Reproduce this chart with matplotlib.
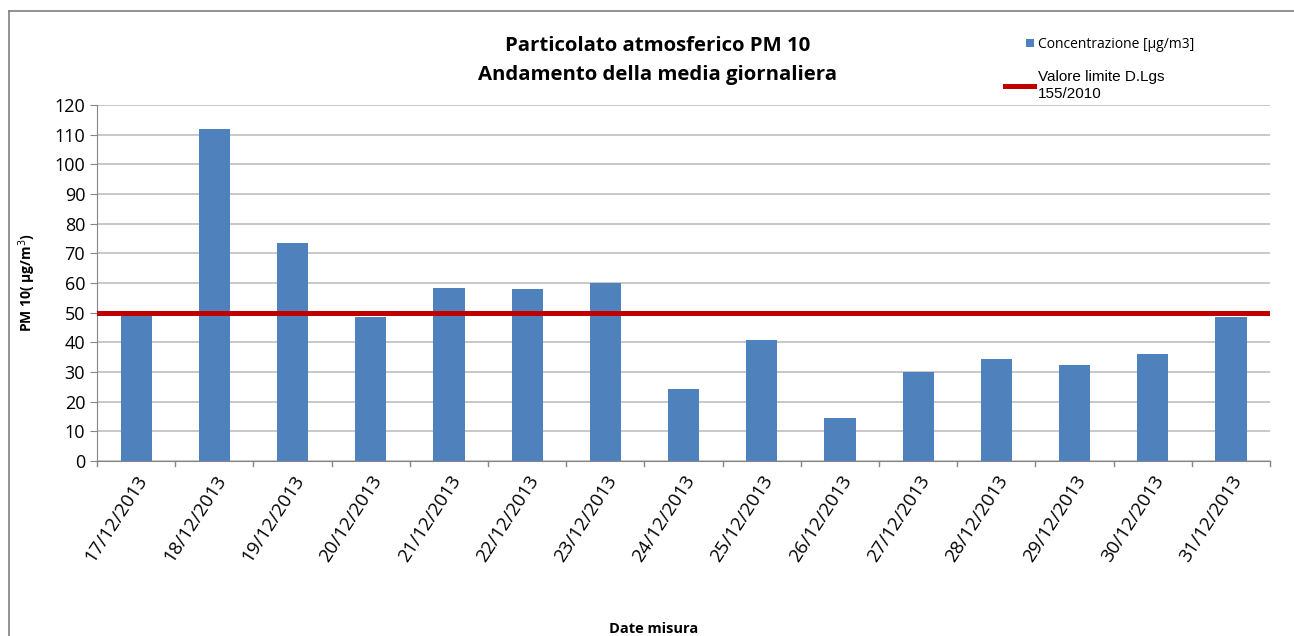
import numpy as np
import matplotlib
matplotlib.use('Agg')
from matplotlib import pyplot as plt
from matplotlib.lines import Line2D
from matplotlib.patches import Rectangle
from matplotlib.legend_handler import HandlerPatch

dates = ['17/12/2013', '18/12/2013', '19/12/2013', '20/12/2013', '21/12/2013',
         '22/12/2013', '23/12/2013', '24/12/2013', '25/12/2013', '26/12/2013',
         '27/12/2013', '28/12/2013', '29/12/2013', '30/12/2013', '31/12/2013']
pm10 = [50.6, 111.8, 73.5, 48.6, 58.3, 58.0, 60.0, 24.3, 40.8, 14.5,
        30.0, 34.4, 32.4, 36.1, 48.6]
limite = [50] * len(dates)

plt.rcParams['font.family'] = ['Open Sans', 'DejaVu Sans']

fig = plt.figure(dpi=100, figsize=(12.94, 6.36))
ax = fig.add_axes([0.075, 0.2752, 0.9065, 0.5597])

x = np.arange(len(dates))
bars = ax.bar(x, pm10, width=0.4, color='#4f81bd', label='Concentrazione [µg/m3]', zorder=2)
line, = ax.plot(np.r_[x[0] - 0.5, x, x[-1] + 0.5], [limite[0]] + limite + [limite[-1]],
                color='#c00000', lw=3.6, zorder=3, label='Valore limite D.Lgs\n155/2010')

ax.set_xlim(-0.5, len(dates) - 0.5)
ax.set_ylim(0, 120)
ax.set_yticks(range(0, 121, 10))
ax.set_xticks(x)
ax.set_xticklabels(dates, rotation=57, ha='right', rotation_mode='anchor', fontsize=13.5)
ax.tick_params(axis='x', length=0, pad=8)
ax.tick_params(axis='y', labelsize=13, length=5, color='#868686')
# ticks between categories, Excel style
for b in np.arange(-0.5, len(dates), 1.0):
    ax.plot([b, b], [0, -1.7], color='#868686', lw=1, clip_on=False, zorder=1)

ax.grid(axis='y', color='#bfbfbf', lw=1.2, zorder=0)
for s in ['top', 'right']:
    ax.spines[s].set_visible(False)
ax.spines['left'].set_color('#868686')
ax.spines['bottom'].set_color('#868686')

ax.set_ylabel('PM 10( µg/m$^3$)', fontsize=10, fontweight='bold', labelpad=12)
fig.text(0.505, 0.005, 'Date misura', ha='center', fontsize=10.5, fontweight='bold')
fig.text(0.508, 0.92, 'Particolato atmosferico PM 10', ha='center', fontsize=14.7, fontweight='bold')
fig.text(0.508, 0.874, 'Andamento della media giornaliera', ha='center', fontsize=14.7, fontweight='bold')


def small_square(legend, orig_handle, xdescent, ydescent, width, height, fontsize):
    s = 6
    return Rectangle((width - xdescent - s, -ydescent + (height - s) / 2), s, s)


bar_handle = bars.patches[0]
leg = fig.legend([bar_handle, line], [bars.get_label(), line.get_label()], loc='upper left',
                 bbox_to_anchor=(0.767, 0.962), frameon=False,
                 fontsize=10, handlelength=2.1, handletextpad=0.3, labelspacing=1.35,
                 handler_map={bar_handle: HandlerPatch(patch_func=small_square)})
leg.get_texts()[1].set_family('Liberation Sans')
leg.get_texts()[1].set_fontsize(11)

# outer frame of the chart area
fig.add_artist(Line2D([0.007, 0.007], [0, 0.983], color='#7f7f7f', lw=1.2))
fig.add_artist(Line2D([0.007, 1], [0.983, 0.983], color='#7f7f7f', lw=1.2))

plt.savefig('out.png')
